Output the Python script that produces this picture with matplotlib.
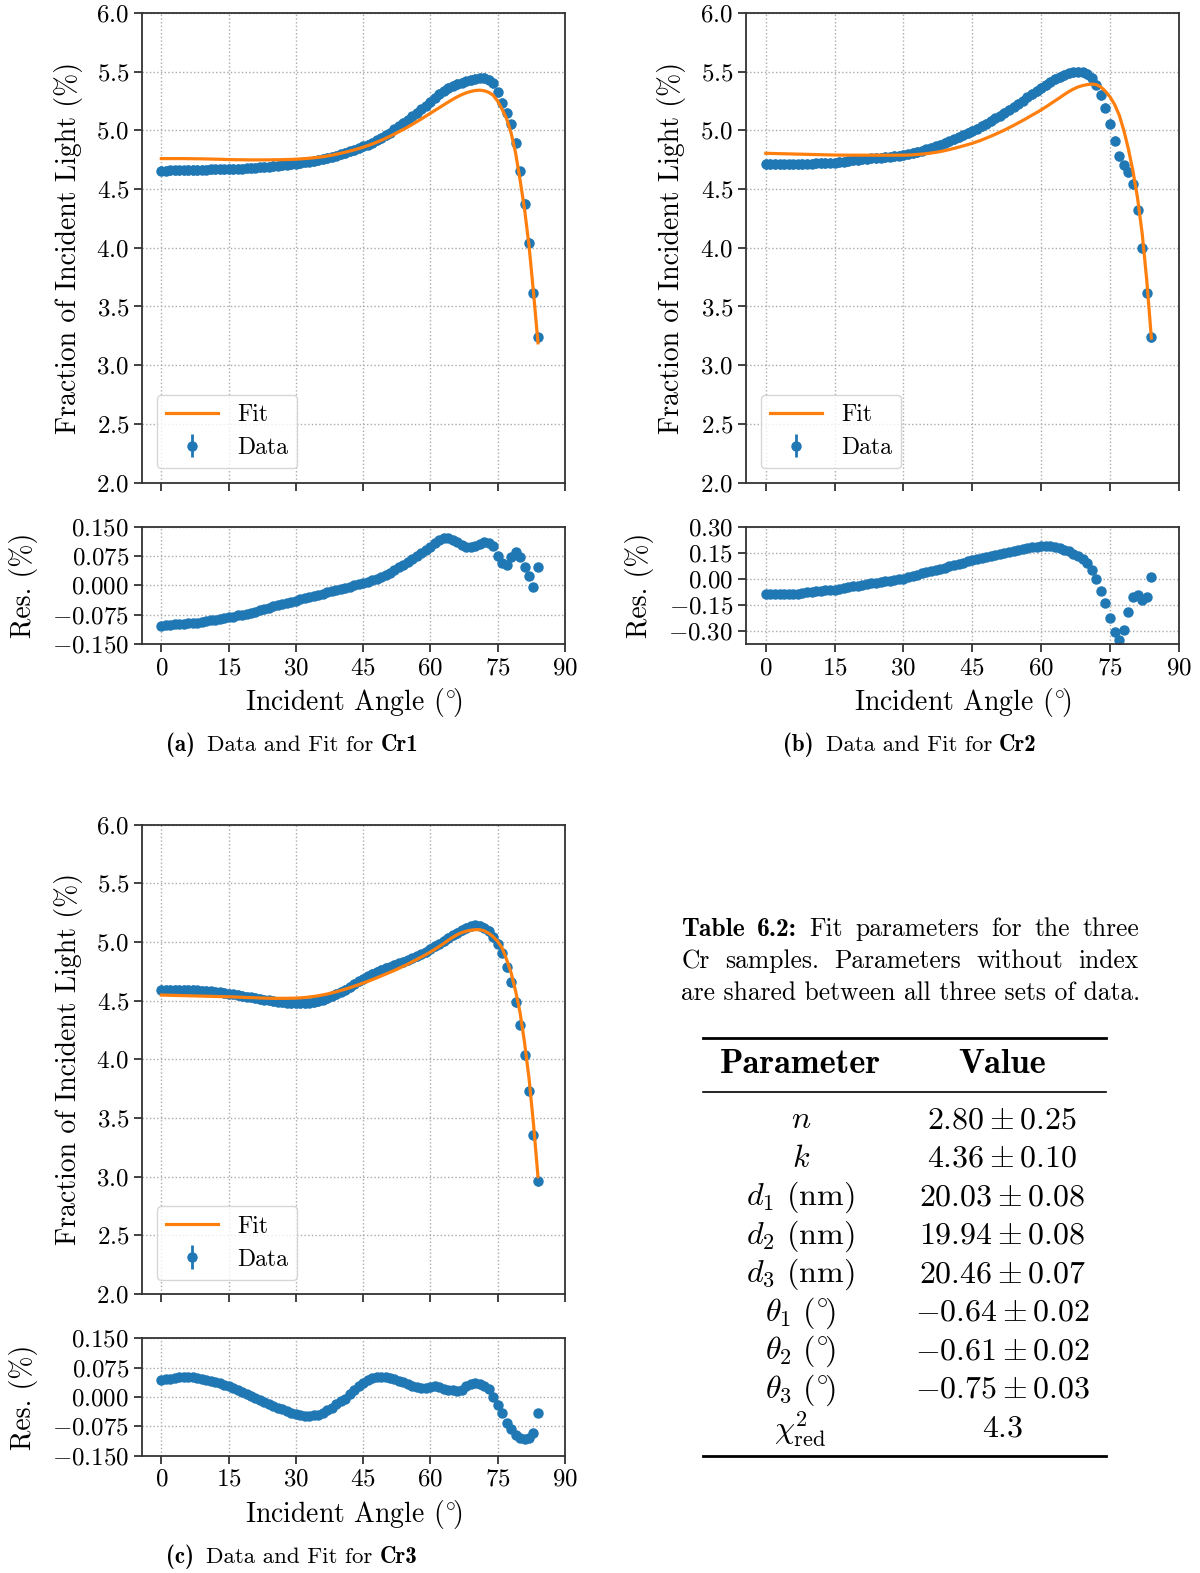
import numpy as np
import matplotlib
matplotlib.use("Agg")
import matplotlib.pyplot as plt
from matplotlib.ticker import MultipleLocator
from matplotlib.lines import Line2D

plt.rcParams['font.family'] = 'serif'
plt.rcParams['font.serif'] = ['cmr10']
plt.rcParams['mathtext.fontset'] = 'cm'
plt.rcParams['axes.formatter.use_mathtext'] = True

# incident angles (deg), shared by the three samples
angles = list(range(0, 85))

# fitted fraction of incident light (%)
fit_cr1 = [
    4.760, 4.760, 4.760, 4.760, 4.760, 4.760, 4.759, 4.759, 4.758, 4.758,
    4.757, 4.756, 4.755, 4.754, 4.753, 4.752, 4.751, 4.750, 4.750, 4.749,
    4.749, 4.749, 4.749, 4.749, 4.749, 4.750, 4.750, 4.751, 4.752, 4.753,
    4.755, 4.757, 4.760, 4.763, 4.767, 4.771, 4.776, 4.782, 4.789, 4.797,
    4.805, 4.814, 4.824, 4.834, 4.845, 4.857, 4.870, 4.884, 4.899, 4.915,
    4.932, 4.950, 4.969, 4.989, 5.009, 5.030, 5.052, 5.075, 5.098, 5.122,
    5.146, 5.170, 5.194, 5.218, 5.242, 5.265, 5.286, 5.305, 5.320, 5.332,
    5.340, 5.343, 5.338, 5.325, 5.300, 5.250, 5.180, 5.100, 4.980, 4.810,
    4.580, 4.330, 4.020, 3.620, 3.190]
fit_cr2 = [
    4.805, 4.804, 4.803, 4.802, 4.801, 4.800, 4.799, 4.798, 4.797, 4.796,
    4.795, 4.794, 4.793, 4.792, 4.791, 4.790, 4.790, 4.789, 4.789, 4.789,
    4.789, 4.789, 4.789, 4.789, 4.789, 4.789, 4.789, 4.789, 4.789, 4.789,
    4.789, 4.790, 4.792, 4.795, 4.798, 4.802, 4.807, 4.813, 4.820, 4.828,
    4.837, 4.847, 4.857, 4.868, 4.879, 4.890, 4.904, 4.918, 4.934, 4.950,
    4.967, 4.985, 5.003, 5.023, 5.043, 5.064, 5.085, 5.107, 5.130, 5.152,
    5.175, 5.200, 5.226, 5.252, 5.278, 5.305, 5.330, 5.352, 5.370, 5.382,
    5.390, 5.395, 5.390, 5.370, 5.333, 5.285, 5.220, 5.130, 5.000, 4.840,
    4.650, 4.420, 4.120, 3.720, 3.230]
fit_cr3 = [
    4.548, 4.547, 4.546, 4.545, 4.544, 4.543, 4.542, 4.541, 4.540, 4.539,
    4.538, 4.537, 4.536, 4.535, 4.534, 4.533, 4.532, 4.530, 4.529, 4.527,
    4.526, 4.525, 4.523, 4.522, 4.521, 4.520, 4.520, 4.520, 4.520, 4.521,
    4.522, 4.524, 4.527, 4.531, 4.536, 4.542, 4.549, 4.557, 4.566, 4.576,
    4.587, 4.598, 4.610, 4.623, 4.636, 4.650, 4.664, 4.679, 4.694, 4.710,
    4.726, 4.742, 4.758, 4.776, 4.794, 4.812, 4.832, 4.852, 4.872, 4.892,
    4.914, 4.938, 4.962, 4.988, 5.015, 5.040, 5.063, 5.080, 5.092, 5.100,
    5.105, 5.105, 5.095, 5.075, 5.045, 5.005, 4.950, 4.851, 4.739, 4.583,
    4.400, 4.144, 3.839, 3.449, 3.000]

# residuals data - fit (%)
res_cr1 = [
    -0.103, -0.102, -0.101, -0.100, -0.099, -0.099, -0.097, -0.096, -0.095, -0.093,
    -0.091, -0.089, -0.088, -0.086, -0.084, -0.082, -0.080, -0.077, -0.075, -0.073,
    -0.070, -0.067, -0.064, -0.060, -0.057, -0.054, -0.051, -0.048, -0.045, -0.042,
    -0.039, -0.036, -0.033, -0.030, -0.027, -0.024, -0.021, -0.018, -0.015, -0.012,
    -0.009, -0.006, -0.003, 0.000, 0.003, 0.006, 0.009, 0.013, 0.017, 0.021,
    0.026, 0.032, 0.039, 0.046, 0.053, 0.060, 0.067, 0.074, 0.082, 0.090,
    0.099, 0.109, 0.117, 0.121, 0.120, 0.116, 0.110, 0.103, 0.099, 0.098,
    0.101, 0.106, 0.110, 0.108, 0.100, 0.075, 0.056, 0.052, 0.072, 0.086,
    0.072, 0.047, 0.023, -0.004, 0.047]
res_cr2 = [
    -0.090, -0.090, -0.090, -0.090, -0.090, -0.090, -0.089, -0.087, -0.084, -0.080,
    -0.077, -0.074, -0.071, -0.068, -0.066, -0.064, -0.060, -0.055, -0.050, -0.045,
    -0.040, -0.036, -0.032, -0.028, -0.024, -0.020, -0.016, -0.012, -0.008, -0.004,
    0.000, 0.007, 0.014, 0.022, 0.030, 0.037, 0.044, 0.050, 0.057, 0.064,
    0.071, 0.078, 0.085, 0.092, 0.099, 0.106, 0.112, 0.118, 0.124, 0.130,
    0.136, 0.142, 0.148, 0.154, 0.159, 0.164, 0.169, 0.175, 0.180, 0.184,
    0.187, 0.188, 0.188, 0.185, 0.177, 0.168, 0.157, 0.144, 0.130, 0.113,
    0.090, 0.052, 0.000, -0.069, -0.140, -0.227, -0.308, -0.352, -0.298, -0.194,
    -0.106, -0.096, -0.125, -0.106, 0.008]
res_cr3 = [
    0.043, 0.045, 0.047, 0.049, 0.051, 0.052, 0.052, 0.051, 0.049, 0.047,
    0.044, 0.042, 0.039, 0.035, 0.031, 0.028, 0.023, 0.017, 0.012, 0.007,
    0.002, -0.003, -0.008, -0.013, -0.018, -0.023, -0.027, -0.032, -0.036, -0.040,
    -0.044, -0.047, -0.049, -0.048, -0.047, -0.045, -0.040, -0.034, -0.027, -0.019,
    -0.011, -0.004, 0.007, 0.018, 0.028, 0.036, 0.043, 0.049, 0.052, 0.052,
    0.051, 0.049, 0.046, 0.042, 0.037, 0.032, 0.028, 0.025, 0.023, 0.024,
    0.026, 0.027, 0.025, 0.021, 0.019, 0.017, 0.015, 0.018, 0.028, 0.033,
    0.036, 0.034, 0.028, 0.020, 0.000, -0.020, -0.040, -0.067, -0.083, -0.097,
    -0.104, -0.107, -0.106, -0.091, -0.040]

data_err = 0.04

res_ticks_small = [-0.15, -0.075, 0.0, 0.075, 0.15]
res_ticks_big = [-0.30, -0.15, 0.0, 0.15, 0.30]

DEG = r'(^{\circ}\!)'
param_names = [r'$n$', r'$k$', r'$d_1$ (nm)', r'$d_2$ (nm)', r'$d_3$ (nm)',
               r'$\theta_1\ ' + DEG + '$', r'$\theta_2\ ' + DEG + '$',
               r'$\theta_3\ ' + DEG + '$', r'$\chi^2_{\mathrm{red}}$']
param_values = [r'$2.80 \pm 0.25$', r'$4.36 \pm 0.10$', r'$20.03 \pm 0.08$',
                r'$19.94 \pm 0.08$', r'$20.46 \pm 0.07$', r'$-0.64 \pm 0.02$',
                r'$-0.61 \pm 0.02$', r'$-0.75 \pm 0.03$', r'$4.3$']

# positions below are read in a 1196 x 1568 frame
W, H = 1196, 1568
fig = plt.figure(figsize=(12, 15.73), dpi=100)
PX = 1200 / 1196  # real pixels per frame pixel

SPINE = '#333333'


def px_rect(left, top, right, bottom):
    return [left / W, 1 - bottom / H, (right - left) / W, (bottom - top) / H]


def style_axes(ax):
    for s in ax.spines.values():
        s.set_color(SPINE)
        s.set_linewidth(1.3)
    ax.tick_params(labelsize=18, length=6, width=1.3, color=SPINE)
    ax.grid(True, ls=':', color='#aaaaaa', lw=1)
    ax.set_axisbelow(True)


def place_row(pieces, baseline, size, gaps, left=None, center=None, right=None):
    """Place text pieces side by side; widths measured from the renderer."""
    texts = [fig.text(0, 1 - baseline / H, w, family=f, fontsize=size, va='baseline')
             for w, f in pieces]
    renderer = fig.canvas.get_renderer()
    widths = [t.get_window_extent(renderer).width / PX for t in texts]
    if right is not None:
        gap = (right - left - sum(widths)) / (len(texts) - 1)
        gaps = [gap] * (len(texts) - 1)
    total = sum(widths) + sum(gaps)
    x = left if left is not None else center - total / 2
    for i, (t, w) in enumerate(zip(texts, widths)):
        t.set_x(x / W)
        x += w + (gaps[i] if i < len(gaps) else 0)


def draw_panel(left, right, top, split, mid_top, bottom, fit, res, res_lim, res_ticks,
               main_lab_x, res_lab_x, tag, sample, cap_x, cap_y):
    ax = fig.add_axes(px_rect(left, top, right, split))
    axr = fig.add_axes(px_rect(left, mid_top, right, bottom), sharex=ax)
    data = np.array(fit) + np.array(res)

    ax.plot(angles, fit, color='tab:orange', lw=2.3, label='Fit', zorder=3)
    ax.errorbar(angles, data, yerr=data_err, fmt='o', ms=6.5, color='tab:blue',
                elinewidth=2, label='Data', zorder=2)
    ax.set_xlim(-4.2, 90)
    ax.set_ylim(2, 6)
    ax.xaxis.set_major_locator(MultipleLocator(15))
    ax.yaxis.set_major_locator(MultipleLocator(0.5))
    style_axes(ax)
    ax.tick_params(labelbottom=False)
    ax.set_ylabel('Fraction of Incident Light (%)', fontsize=20, va='center')
    ax.yaxis.set_label_coords(main_lab_x, 0.5)
    ax.legend(loc='lower left', fontsize=17, handlelength=2.2, framealpha=0.8,
              borderaxespad=0.6, labelspacing=0.45)

    axr.plot(angles, res, 'o', ms=6.5, color='tab:blue')
    axr.set_ylim(*res_lim)
    axr.set_yticks(res_ticks)
    style_axes(axr)
    axr.set_ylabel('Res. (%)', fontsize=20, va='center')
    axr.yaxis.set_label_coords(res_lab_x, 0.5)
    axr.set_xlabel('Incident Angle $' + DEG + '$', fontsize=20, va='center')
    axr.xaxis.set_label_coords(0.5, -0.50)

    place_row([(tag, 'cmb10'), ('Data and Fit for', 'cmr10'), (sample, 'cmb10')],
              cap_y, 16.5, [12, 7], center=cap_x)


draw_panel(142, 563, 13, 481, 525, 642, fit_cr1, res_cr1, (-0.15, 0.15), res_ticks_small,
           -0.175, -0.282, '(a)', 'Cr1', 291, 749)
draw_panel(744, 1175, 13, 481, 525, 642, fit_cr2, res_cr2, (-0.378, 0.30), res_ticks_big,
           -0.173, -0.247, '(b)', 'Cr2', 907, 749)
draw_panel(142, 563, 822, 1290, 1334, 1451, fit_cr3, res_cr3, (-0.15, 0.15), res_ticks_small,
           -0.175, -0.282, '(c)', 'Cr3', 291, 1558)

# table caption, first two lines justified like LaTeX
cap_size = 18.4
place_row([('Table', 'cmb10'), ('6.2:', 'cmb10'), ('Fit', 'cmr10'), ('parameters', 'cmr10'),
           ('for', 'cmr10'), ('the', 'cmr10'), ('three', 'cmr10')], 933, cap_size, None,
          left=679, right=1135)
place_row([('Cr', 'cmr10'), ('samples.', 'cmr10'), ('Parameters', 'cmr10'),
           ('without', 'cmr10'), ('index', 'cmr10')], 965, cap_size, None,
          left=679, right=1135)
fig.text(679 / W, 1 - 997 / H, 'are shared between all three sets of data.',
         family='cmr10', fontsize=cap_size, va='baseline')

# table body
tab_left, tab_right = 701, 1102
col1, col2 = 798, 999
for y, lw in [(1035, 2.0), (1089, 1.2), (1451, 2.0)]:
    fig.add_artist(Line2D([tab_left / W, tab_right / W], [1 - y / H, 1 - y / H],
                          color='black', lw=lw))
fig.text(col1 / W, 1 - 1070 / H, 'Parameter', family='cmb10', fontsize=24.8,
         ha='center', va='baseline')
fig.text(col2 / W, 1 - 1070 / H, 'Value', family='cmb10', fontsize=24.8,
         ha='center', va='baseline')
for i, (name, val) in enumerate(zip(param_names, param_values)):
    y = 1117 + i * 38.4
    fig.text(col1 / W, 1 - y / H, name, fontsize=23, ha='center', va='center')
    fig.text(col2 / W, 1 - y / H, val, fontsize=23, ha='center', va='center')

fig.savefig('out.png', dpi=100)
